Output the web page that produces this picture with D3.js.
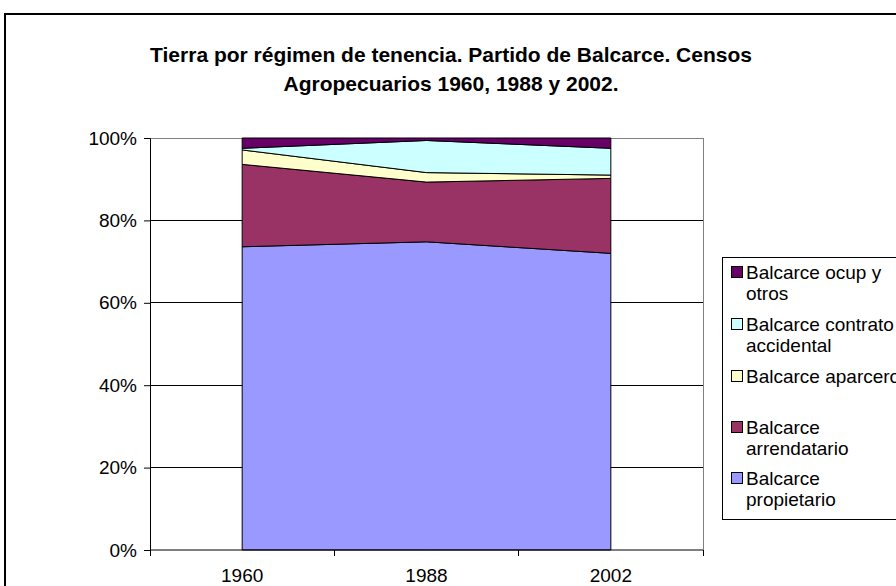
<!DOCTYPE html>
<html>
<head>
<meta charset="utf-8">
<script src="https://cdn.jsdelivr.net/npm/d3@7"></script>
<style>
  html, body { margin: 0; padding: 0; background: #fff; }
  svg { display: block; font-family: "Liberation Sans", Arial, sans-serif; }
</style>
</head>
<body>
<svg id="chart" width="896" height="586"></svg>
<script>
// Census years
const years = ["1960", "1988", "2002"];

// Share of land (%) per tenure regime, bottom to top of the stack
const propietario   = [73.6, 74.8, 72.0];
const arrendatario  = [20.0, 14.5, 18.2];
const aparcero      = [3.5, 2.3, 0.8];
const contrato      = [0.4, 7.8, 6.5];
const ocupOtros     = [2.5, 0.6, 2.5];

const seriesNames = [
  "Balcarce propietario",
  "Balcarce arrendatario",
  "Balcarce aparcero",
  "Balcarce contrato accidental",
  "Balcarce ocup y otros"
];
const seriesColors = ["#9999FF", "#993366", "#FFFFCC", "#CCFFFF", "#660066"];

// Legend labels (top to bottom), wrapped across lines
const legendLines = [
  ["Balcarce ocup y", "otros"],
  ["Balcarce contrato", "accidental"],
  ["Balcarce aparcero"],
  ["Balcarce", "arrendatario"],
  ["Balcarce", "propietario"]
];

const yTicks = [0, 0.2, 0.4, 0.6, 0.8, 1.0];

const seriesValues = [propietario, arrendatario, aparcero, contrato, ocupOtros];
const rows = years.map((y, i) => {
  const r = { year: y };
  seriesNames.forEach((n, k) => r[n] = seriesValues[k][i]);
  return r;
});

const stacked = d3.stack()
  .keys(seriesNames)
  .offset(d3.stackOffsetExpand)(rows);

const svg = d3.select("#chart");
const FONT = "Liberation Sans, Arial, sans-serif";

// Outer chart frame
svg.append("rect")
  .attr("x", 5).attr("y", 14)
  .attr("width", 900).attr("height", 590)
  .attr("fill", "#fff").attr("stroke", "#000").attr("stroke-width", 2);

// Title
const title = svg.append("text")
  .attr("text-anchor", "middle")
  .attr("font-weight", "bold")
  .attr("font-size", 21)
  .attr("fill", "#000");
title.append("tspan").attr("x", 451).attr("y", 62)
  .text("Tierra por régimen de tenencia. Partido de Balcarce. Censos");
title.append("tspan").attr("x", 451).attr("y", 91)
  .text("Agropecuarios 1960, 1988 y 2002.");

const plot = { left: 150, right: 703, top: 138, bottom: 550 };

const x = d3.scaleBand().domain(years).range([plot.left, plot.right]);
const xc = d => x(d) + x.bandwidth() / 2;
const y = d3.scaleLinear().domain([0, 1]).range([plot.bottom, plot.top]);

// Gridlines
svg.append("g")
  .selectAll("line")
  .data(yTicks.filter(t => t > 0))
  .join("line")
  .attr("x1", plot.left).attr("x2", plot.right)
  .attr("y1", d => y(d)).attr("y2", d => y(d))
  .attr("stroke", d => d === 1 ? "#808080" : "#000")
  .attr("stroke-width", 1)
  .attr("shape-rendering", "crispEdges");

// Plot area right border
svg.append("line")
  .attr("x1", plot.right).attr("x2", plot.right)
  .attr("y1", plot.top).attr("y2", plot.bottom)
  .attr("stroke", "#808080")
  .attr("shape-rendering", "crispEdges");

// Stacked areas
const area = d3.area()
  .x(d => xc(d.data.year))
  .y0(d => y(d[0]))
  .y1(d => y(d[1]));

svg.append("g")
  .selectAll("path")
  .data(stacked)
  .join("path")
  .attr("d", area)
  .attr("fill", (d, i) => seriesColors[i])
  .attr("stroke", "#000")
  .attr("stroke-width", 1)
  .attr("stroke-linejoin", "round");

// Y axis
const yAxis = svg.append("g")
  .attr("transform", `translate(${plot.left},0)`)
  .call(d3.axisLeft(y).tickValues(yTicks).tickFormat(d3.format(".0%")).tickSize(6).tickPadding(7));
yAxis.select(".domain").attr("stroke", "#000");
yAxis.selectAll(".tick line").attr("stroke", "#000");
yAxis.selectAll("text").attr("font-size", 19).attr("font-family", FONT).attr("fill", "#000");

// X axis: labels at band centers, tick marks at band boundaries
const xAxis = svg.append("g")
  .attr("transform", `translate(0,${plot.bottom})`)
  .call(d3.axisBottom(x).tickSize(0).tickPadding(19));
xAxis.select(".domain").attr("stroke", "#000").attr("d", `M${plot.left},0H${plot.right}`);
xAxis.selectAll("text").attr("font-size", 19).attr("font-family", FONT).attr("fill", "#000");

const boundaries = years.map(d => x(d)).concat([x(years[years.length - 1]) + x.bandwidth()]);
xAxis.selectAll(".bound")
  .data(boundaries)
  .join("line")
  .attr("class", "bound")
  .attr("x1", d => d).attr("x2", d => d)
  .attr("y1", 0).attr("y2", 6)
  .attr("stroke", "#000")
  .attr("shape-rendering", "crispEdges");

// Legend
const legend = svg.append("g");
legend.append("rect")
  .attr("x", 722.5).attr("y", 257.5)
  .attr("width", 200).attr("height", 262)
  .attr("fill", "#fff").attr("stroke", "#000").attr("stroke-width", 1);

const legendBaseline = [279, 331, 383, 434, 485];
const legendColors = seriesColors.slice().reverse();
legendLines.forEach((lines, i) => {
  const ty = legendBaseline[i];
  legend.append("rect")
    .attr("x", 731.5).attr("y", ty - 12.5)
    .attr("width", 11).attr("height", 11)
    .attr("fill", legendColors[i])
    .attr("stroke", "#000").attr("stroke-width", 1);
  const t = legend.append("text")
    .attr("font-size", 19)
    .attr("fill", "#000");
  lines.forEach((ln, j) => {
    t.append("tspan").attr("x", 746).attr("y", ty + j * 21).text(ln);
  });
});
</script>
</body>
</html>
